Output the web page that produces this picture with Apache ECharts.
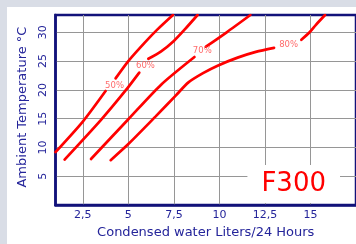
<!DOCTYPE html>
<html>
<head>
<meta charset="utf-8">
<script src="https://cdn.jsdelivr.net/npm/echarts@6/dist/echarts.min.js"></script>
<style>
    html, body { margin: 0; padding: 0; width: 356px; height: 244px; overflow: hidden; background: #d9dde6; }
    #grafico { position: absolute; left: 7px; top: 7px; width: 349px; height: 237px; background: #fff; }
</style>
</head>
<body>
<div id="grafico"></div>
<script>
// Tick values shown on the axes
const xTicks = [2.5, 5, 7.5, 10, 12.5, 15];
const yTicks = [5, 10, 15, 20, 25, 30];

// Relative humidity curves: each one is broken in two pieces around its label
const humidityLabels = ['50%', '60%', '70%', '80%'];
const curve50 = [
    [[1.0, 9.2], [2.5, 14.5], [3.75, 19.8]],
    [[4.3, 22.0], [5.0, 25.0], [5.9, 28.2], [6.6, 30.5], [7.45, 33]]
];
const curve60 = [
    [[1.5, 7.9], [3.5, 14.8], [4.85, 19.9], [5.6, 23.0]],
    [[6.1, 25.4], [6.8, 26.7], [7.5, 28.5], [8.1, 30.5], [8.8, 33]]
];
const curve70 = [
    [[2.95, 8.0], [5.0, 14.9], [6.8, 20.9], [8.63, 25.7]],
    [[9.26, 27.5], [10.4, 30.0], [11.7, 33]]
];
const curve80 = [
    [[4.03, 7.8], [5.0, 10.6], [6.5, 15.4], [7.6, 19.0], [8.3, 21.3], [9.1, 22.9], [9.9, 24.2], [11.0, 25.6], [12.0, 26.6], [13.0, 27.3]],
    [[14.5, 28.7], [14.95, 30.0], [15.3, 31.3], [15.8, 33]]
];
const curves = [curve50, curve60, curve70, curve80];
// Where each percentage label sits (data coordinates)
const labelPoints = [[4.24, 20.7], [5.94, 24.1], [9.06, 26.7], [13.8, 27.8]];

const navy = '#12127a';
const textBlue = '#24249a';
const fonte = 'DejaVu Sans, Verdana, sans-serif';

const meuGrafico = echarts.init(document.getElementById('grafico'), null, { renderer: 'canvas' });

// one line series per piece of curve
const series = [];
curves.forEach(curve => {
    curve.forEach(piece => {
        series.push({
            type: 'line',
            data: piece,
            smooth: 0.25,
            showSymbol: false,
            silent: true,
            clip: true,
            lineStyle: { color: '#ff0000', width: 2.7, cap: 'round' },
            z: 3
        });
    });
});

// the small "xx%" labels
series.push({
    type: 'scatter',
    symbolSize: 1,
    itemStyle: { color: 'transparent' },
    silent: true,
    data: labelPoints.map((p, i) => ({ value: p, name: humidityLabels[i] })),
    label: {
        show: true,
        position: 'inside',
        formatter: '{b}',
        color: '#ff4646',
        fontSize: 8.5,
        fontFamily: fonte
    },
    z: 4
});

const opcoes = {
    animation: false,
    title: {
        text: 'F300',
        right: 16,
        bottom: 41,
        padding: [6, 14],
        backgroundColor: '#fff',
        textStyle: { color: '#ff0000', fontSize: 26, fontWeight: 'normal', fontFamily: fonte }
    },
    grid: {
        left: 48.5,
        top: 8,
        right: -4.4,
        bottom: 30,
        show: true,
        borderColor: navy,
        borderWidth: 2.5,
        backgroundColor: 'transparent'
    },
    xAxis: {
        type: 'value',
        min: 1,
        max: 17.5,
        name: 'Condensed water Liters/24 Hours',
        nameLocation: 'middle',
        nameGap: 17,
        nameTextStyle: { color: textBlue, fontSize: 13, fontFamily: fonte },
        axisLine: { show: true, onZero: false, lineStyle: { color: navy, width: 2.5 } },
        axisTick: { show: false, customValues: xTicks },
        axisLabel: {
            customValues: xTicks,
            color: textBlue,
            fontSize: 11,
            fontFamily: fonte,
            margin: 5,
            formatter: v => String(v).replace('.', ',')
        },
        splitLine: { show: true, lineStyle: { color: '#969696', width: 1 } }
    },
    yAxis: {
        type: 'value',
        min: 0,
        max: 33,
        name: 'Ambient Temperature °C',
        nameLocation: 'middle',
        nameGap: 20,
        nameTextStyle: { color: textBlue, fontSize: 13, fontFamily: fonte, padding: [0, 0, 0, 6] },
        axisLine: { show: true, onZero: false, lineStyle: { color: navy, width: 2.5 } },
        axisTick: { show: false, customValues: yTicks },
        axisLabel: {
            customValues: yTicks,
            rotate: 90,
            color: textBlue,
            fontSize: 11,
            fontFamily: fonte,
            margin: 7
        },
        splitLine: { show: true, lineStyle: { color: '#969696', width: 1 } }
    },
    series: series
};

meuGrafico.setOption(opcoes);
</script>
</body>
</html>
